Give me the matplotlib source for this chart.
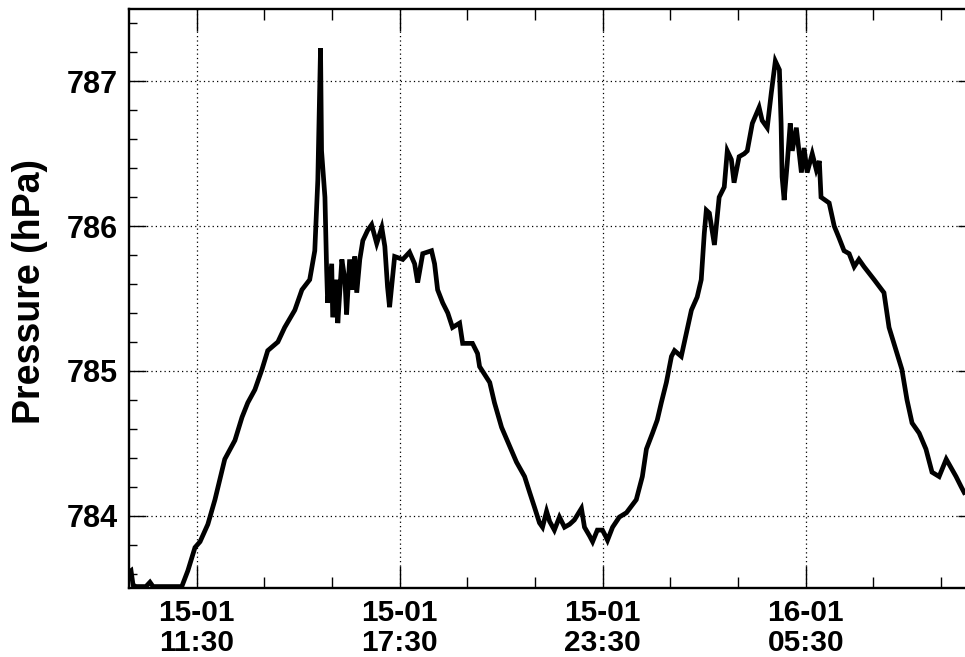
import matplotlib
matplotlib.use("Agg")
import matplotlib.pyplot as plt
from matplotlib.ticker import FixedLocator, MultipleLocator

plt.rcParams['font.family'] = ['Liberation Sans', 'DejaVu Sans']
plt.rcParams['font.weight'] = 'bold'

# time in hours since 15-01 09:30
hours = [0.00, 0.06, 0.12, 0.21, 0.32, 0.50, 0.62, 0.71, 0.92, 1.56, 1.74, 1.95,
         2.10, 2.33, 2.54, 2.83, 3.13, 3.34, 3.51, 3.72, 3.93, 4.10, 4.40, 4.60,
         4.90, 5.11, 5.34, 5.49, 5.58, 5.66, 5.69, 5.79, 5.84, 5.87, 5.99, 6.02,
         6.14, 6.17, 6.29, 6.38, 6.43, 6.52, 6.61, 6.67, 6.73, 6.82, 6.91, 7.05,
         7.17, 7.32, 7.47, 7.56, 7.64, 7.70, 7.85, 8.09, 8.29, 8.44, 8.53, 8.68,
         8.94, 9.03, 9.12, 9.27, 9.42, 9.56, 9.77, 9.86, 10.15, 10.30, 10.36, 10.66,
         10.80, 11.01, 11.25, 11.45, 11.69, 11.84, 11.98, 12.13, 12.22, 12.34, 12.43, 12.57,
         12.72, 12.87, 13.02, 13.16, 13.37, 13.46, 13.61, 13.70, 13.84, 13.99, 14.08, 14.14,
         14.29, 14.49, 14.70, 14.99, 15.17, 15.29, 15.47, 15.61, 15.73, 15.88, 16.03, 16.12,
         16.32, 16.47, 16.62, 16.79, 16.91, 17.00, 17.06, 17.15, 17.30, 17.44, 17.59, 17.68,
         17.80, 17.88, 18.03, 18.18, 18.27, 18.42, 18.62, 18.71, 18.86, 18.98, 19.10, 19.22,
         19.27, 19.30, 19.36, 19.45, 19.54, 19.60, 19.72, 19.87, 19.95, 20.04, 20.19, 20.31,
         20.40, 20.45, 20.69, 20.84, 20.98, 21.13, 21.28, 21.43, 21.57, 21.72, 22.02, 22.31,
         22.46, 22.67, 22.84, 22.99, 23.14, 23.35, 23.55, 23.73, 23.94, 24.15, 24.32, 24.44,
         24.59, 24.68]

pressure = [783.61, 783.62, 783.52, 783.51, 783.51, 783.51, 783.54, 783.51, 783.51, 783.51, 783.62, 783.78,
            783.82, 783.94, 784.11, 784.39, 784.52, 784.68, 784.78, 784.87, 785.01, 785.14, 785.20, 785.30,
            785.42, 785.56, 785.63, 785.83, 786.32, 787.23, 786.52, 786.20, 785.70, 785.47, 785.74, 785.37,
            785.63, 785.33, 785.77, 785.63, 785.39, 785.77, 785.56, 785.79, 785.54, 785.77, 785.90, 785.97,
            786.01, 785.88, 785.99, 785.86, 785.58, 785.44, 785.79, 785.77, 785.82, 785.74, 785.61, 785.81,
            785.83, 785.74, 785.56, 785.47, 785.40, 785.30, 785.33, 785.19, 785.19, 785.12, 785.03, 784.92,
            784.78, 784.61, 784.48, 784.37, 784.27, 784.16, 784.06, 783.95, 783.92, 784.03, 783.96, 783.90,
            783.99, 783.92, 783.94, 783.97, 784.05, 783.92, 783.86, 783.82, 783.90, 783.90, 783.86, 783.83,
            783.92, 783.99, 784.02, 784.11, 784.27, 784.46, 784.57, 784.66, 784.78, 784.92, 785.10, 785.14,
            785.10, 785.26, 785.42, 785.51, 785.63, 785.95, 786.11, 786.09, 785.87, 786.20, 786.27, 786.52,
            786.46, 786.30, 786.48, 786.50, 786.52, 786.71, 786.82, 786.73, 786.68, 786.92, 787.14, 787.08,
            786.71, 786.34, 786.18, 786.43, 786.71, 786.52, 786.68, 786.37, 786.54, 786.37, 786.50, 786.39,
            786.45, 786.20, 786.16, 786.00, 785.92, 785.83, 785.81, 785.72, 785.77, 785.72, 785.63, 785.54,
            785.30, 785.14, 785.01, 784.80, 784.64, 784.57, 784.46, 784.30, 784.27, 784.39, 784.32, 784.27,
            784.20, 784.16]

xtick_pos = [2, 8, 14, 20]
xtick_labels = ["15-01\n11:30", "15-01\n17:30", "15-01\n23:30", "16-01\n05:30"]
xminor_pos = [4, 6, 10, 12, 16, 18, 22, 24]
ytick_pos = [784, 785, 786, 787]
ytick_labels = ["784", "785", "786", "787"]

fig = plt.figure(figsize=(9.65, 6.57), dpi=100)
ax = fig.add_axes([129/965, 1 - 588/657, 846/965, 579/657])

ax.plot(hours, pressure, color='black', lw=3.4, solid_joinstyle='miter')

ax.set_xlim(0, 25)
ax.set_ylim(783.5, 787.5)

ax.xaxis.set_major_locator(FixedLocator(xtick_pos))
ax.set_xticklabels(xtick_labels)
ax.xaxis.set_minor_locator(FixedLocator(xminor_pos))
ax.yaxis.set_major_locator(FixedLocator(ytick_pos))
ax.set_yticklabels(ytick_labels)
ax.yaxis.set_minor_locator(MultipleLocator(0.2))

ax.tick_params(which='both', direction='in', top=True, right=True, colors='black')
ax.tick_params(axis='x', which='major', length=16, width=1.0, labelsize=21.5, pad=8)
ax.tick_params(axis='x', which='minor', length=8, width=1.0)
ax.tick_params(axis='y', which='major', length=12.5, width=1.0, labelsize=22, pad=8)
ax.tick_params(axis='y', which='minor', length=6, width=1.0)
for lab in ax.get_xticklabels():
    lab.set_linespacing(1.1)
    lab.set_fontweight('bold')
for lab in ax.get_yticklabels():
    lab.set_fontweight('bold')

ax.grid(True, which='major', color='black', linestyle=(0, (1, 2.5)), linewidth=0.9)

for s in ax.spines.values():
    s.set_linewidth(1.7)

ax.set_ylabel("Pressure (hPa)", fontsize=27, fontweight='bold')
ax.yaxis.set_label_coords((48 - 129) / 846, 0.512)

fig.savefig("out.png", dpi=100)
